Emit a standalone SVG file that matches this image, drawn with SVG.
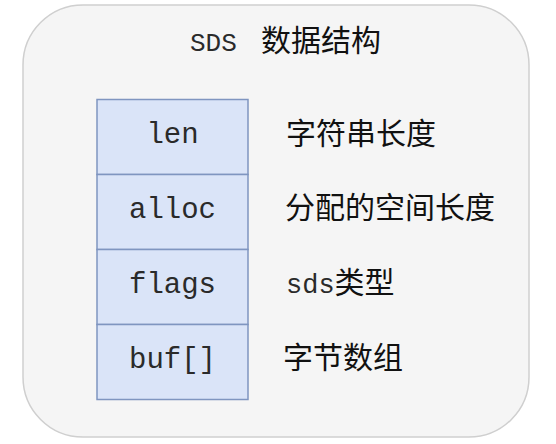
<svg xmlns="http://www.w3.org/2000/svg" width="556" height="444" viewBox="0 0 556 444">
<style>
.mono{font-family:"Liberation Mono","DejaVu Sans Mono",monospace;fill:#2a2a2a;}
.cjk{font-family:"Liberation Sans","Noto Sans CJK SC",sans-serif;fill:#111;}
.cell{fill:#dae4f8;stroke:#7f95c0;stroke-width:1.5;}
</style>
<rect width="556" height="444" fill="#ffffff"/>
<g id="container">
<rect x="23" y="5" width="506" height="432" rx="60" ry="60" fill="#f5f5f5" stroke="#cfcfcf" stroke-width="1.5"/>
<text class="mono" x="190" y="51" font-size="26">SDS</text>
<text class="cjk" x="261" y="51" font-size="30">数据结构</text>
</g>
<g id="len">
<rect class="cell" x="97" y="99.5" width="151" height="75"/>
<text class="mono" x="172.5" y="143" text-anchor="middle" font-size="29">len</text>
</g>
<g id="alloc">
<rect class="cell" x="97" y="174.5" width="151" height="75"/>
<text class="mono" x="172.5" y="218" text-anchor="middle" font-size="29">alloc</text>
</g>
<g id="flags">
<rect class="cell" x="97" y="249.5" width="151" height="75"/>
<text class="mono" x="172.5" y="293" text-anchor="middle" font-size="29">flags</text>
</g>
<g id="buf">
<rect class="cell" x="97" y="324.5" width="151" height="75"/>
<text class="mono" x="172.5" y="368" text-anchor="middle" font-size="29">buf[]</text>
</g>
<g id="labels">
<text class="cjk" x="286" y="144" font-size="30">字符串长度</text>
<text class="cjk" x="285" y="218" font-size="30">分配的空间长度</text>
<text x="286" y="293" font-size="30"><tspan class="mono" font-size="27">sds</tspan><tspan class="cjk">类型</tspan></text>
<text class="cjk" x="283" y="368" font-size="30">字节数组</text>
</g>
<g id="connectors"></g>
</svg>
